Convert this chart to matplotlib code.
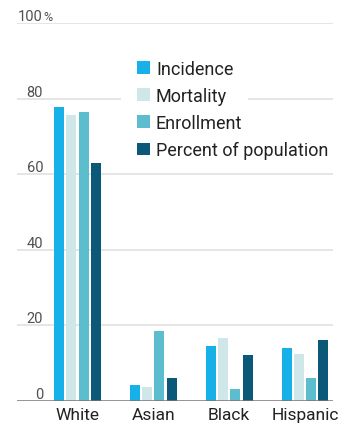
import matplotlib
matplotlib.use("Agg")
import matplotlib.pyplot as plt
import matplotlib.transforms as mtrans
from matplotlib.patches import Rectangle
import numpy as np

plt.rcParams['font.family'] = ['Roboto', 'DejaVu Sans']

categories = ["White", "Asian", "Black", "Hispanic"]
series_names = ["Incidence", "Mortality", "Enrollment", "Percent of population"]
incidence = [77.9, 4.3, 14.5, 13.9]
mortality = [75.6, 3.7, 16.7, 12.5]
enrollment = [76.4, 18.4, 3.2, 6.2]
population = [63.0, 6.1, 12.1, 16.2]
colors = ["#17b0e8", "#cfe7e9", "#5bbdcd", "#0b5878"]
yticks = [0, 20, 40, 60, 80, 100]

W, H = 349, 427
fig = plt.figure(figsize=(W / 100, H / 100), dpi=100)
ax = fig.add_axes([17 / W, 25 / H, 316 / W, 378 / H])

step = 75.8
x = np.arange(len(categories))
ax.set_xlim(-(77.5 - 17) / step, 3 + (333 - 305) / step)
ax.set_ylim(0, 100)

bw = 10 / step
off = 12.3 / step
for i, (vals, c, name) in enumerate(zip([incidence, mortality, enrollment, population], colors, series_names)):
    ax.bar(x + (i - 1.5) * off, vals, width=bw, color=c, label=name, zorder=3)

for t in yticks[1:]:
    ax.axhline(t, color="#dedede", lw=1.1, zorder=1)
ax.axhline(0, color="#7d736d", lw=1.8, zorder=4)

xr = (43 - 17) / 316
for t in yticks:
    ax.annotate(f"{t}", xy=(xr, t), xycoords=("axes fraction", "data"),
                xytext=(0, 2.2), textcoords="offset points", ha="right", va="baseline",
                fontsize=10.5, color="#505050")
ax.annotate("%", xy=(xr, 100), xycoords=("axes fraction", "data"),
            xytext=(0.4, 2.2), textcoords="offset points", ha="left", va="baseline",
            fontsize=9, color="#505050")

for s in ax.spines.values():
    s.set_visible(False)
ax.set_yticks([])
ax.set_xticks(x)
ax.set_xticklabels(categories, fontsize=12.5, color="#222222")
ax.tick_params(axis="x", length=0, pad=4.5)

# white gap behind legend over the 80 gridline
blend = mtrans.blended_transform_factory(ax.transAxes, ax.transData)
ax.add_patch(Rectangle(((121 - 17) / 316, 78), (248 - 121) / 316, 4,
                       transform=blend, facecolor="white", edgecolor="none", zorder=2))

leg = ax.legend(loc="upper left", bbox_to_anchor=((137 - 17) / 316, 1 - (61 - 24) / 378),
                frameon=False, fontsize=13, handlelength=0.7, handleheight=0.7,
                handletextpad=0.35, labelspacing=0.5, borderpad=0, borderaxespad=0)
for t in leg.get_texts():
    t.set_color("#222222")
leg.set_zorder(5)

fig.savefig("out.png", dpi=100)
